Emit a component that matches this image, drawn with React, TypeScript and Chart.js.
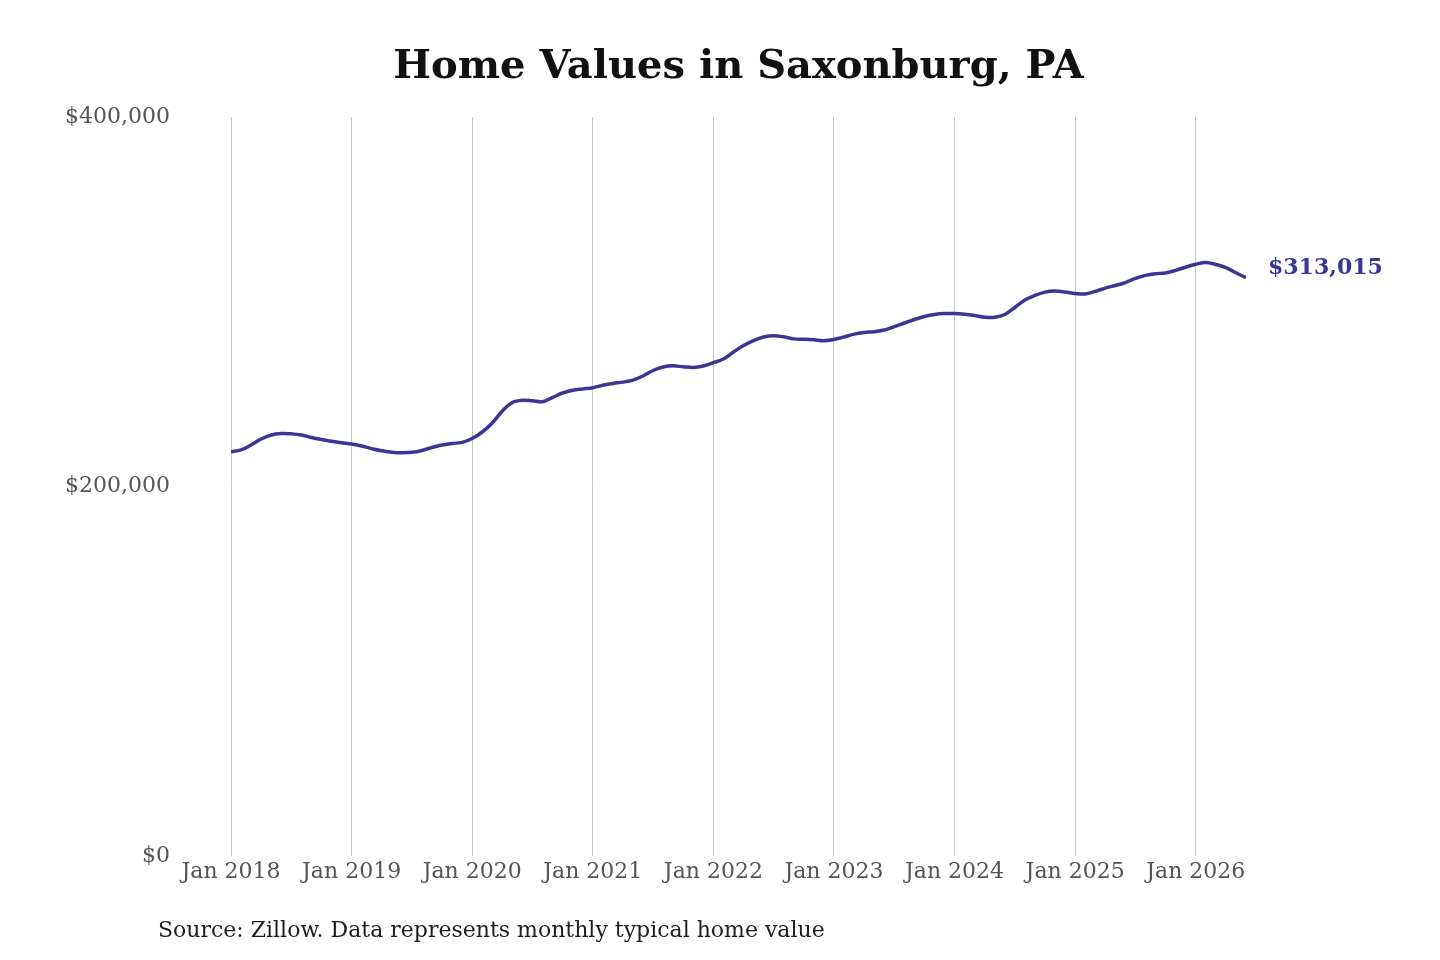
import React, { useEffect, useRef } from "react";
import { Chart, registerables } from "chart.js";

Chart.register(...registerables);

const TITLE = "Home Values in Saxonburg, PA";
const SOURCE = "Source: Zillow. Data represents monthly typical home value";

// Monthly typical home value, Jan 2018 .. Jun 2026
const values: number[] = [
  218800, 219800, 222500, 225700, 227900, 228700, 228500, 227900, 226500, 225400, 224500, 223700,
  223000, 221900, 220500, 219300, 218600, 218300, 218500, 219500, 221100, 222500, 223300, 223900,
  226000, 229500, 234400, 240900, 245500, 246700, 246400, 245900, 248200, 250600, 252100, 252800,
  253500, 254800, 255800, 256500, 257600, 259800, 262800, 264700, 265300, 264800, 264400, 265200,
  267000, 269000, 272800, 276300, 279000, 280900, 281600, 281000, 279900, 279700, 279400, 278900,
  279600, 280900, 282500, 283400, 283800, 284700, 286500, 288500, 290400, 292000, 293100, 293600,
  293600, 293200, 292500, 291600, 291600, 293100, 296900, 301000, 303400, 305200, 305800, 305300,
  304500, 304200, 305600, 307400, 308800, 310400, 312600, 314300, 315200, 315600, 317000, 318700,
  320300, 321200, 320200, 318500, 315700, 313015,
];

const yearTickLabels: string[] = [
  "Jan 2018", "Jan 2019", "Jan 2020", "Jan 2021", "Jan 2022",
  "Jan 2023", "Jan 2024", "Jan 2025", "Jan 2026",
];

const yTicks: number[] = [0, 200000, 400000];

const LINE_COLOR = "#3b3596";
const SERIF = "'DejaVu Serif', serif";

const fmt = (v: number) => "$" + Math.round(v).toLocaleString("en-US");

export default function App() {
  const ref = useRef<HTMLCanvasElement | null>(null);

  useEffect(() => {
    if (!ref.current) return;
    const points = values.map((v, i) => ({ x: i, y: v }));
    const tickValues = yearTickLabels.map((_, i) => i * 12);

    const overlay = {
      id: "overlay",
      afterDatasetsDraw(chart: any) {
        const ctx = chart.ctx;
        const area = chart.chartArea;
        ctx.save();
        // title
        ctx.fillStyle = "#111111";
        ctx.font = `bold 40px ${SERIF}`;
        ctx.textAlign = "center";
        ctx.textBaseline = "middle";
        ctx.fillText(TITLE, (area.left + area.right) / 2, 68);
        // source
        ctx.fillStyle = "#1e1e1e";
        ctx.font = `22px ${SERIF}`;
        ctx.textAlign = "left";
        ctx.fillText(SOURCE, 158, 931);
        // end label
        const meta = chart.getDatasetMeta(0);
        const last = meta.data[meta.data.length - 1];
        ctx.fillStyle = LINE_COLOR;
        ctx.font = `bold 22px ${SERIF}`;
        ctx.textAlign = "left";
        ctx.fillText(fmt(values[values.length - 1]), last.x + 22, last.y - 9);
        ctx.restore();
      },
    };

    const chart = new Chart(ref.current, {
      type: "line",
      data: {
        datasets: [
          {
            data: points,
            borderColor: LINE_COLOR,
            borderWidth: 3.5,
            pointRadius: 0,
            tension: 0.35,
            fill: false,
          },
        ],
      },
      options: {
        animation: false,
        responsive: false,
        maintainAspectRatio: false,
        layout: { padding: { left: 0, top: 117, right: 194, bottom: 0 } },
        plugins: {
          legend: { display: false },
          tooltip: { enabled: false },
          title: { display: false },
        },
        scales: {
          x: {
            type: "linear",
            min: 0,
            max: values.length - 1,
            border: { display: false },
            grid: { display: true, color: "#c8c8c8", lineWidth: 1, drawTicks: false },
            afterBuildTicks: (scale: any) => {
              scale.ticks = tickValues.map((v) => ({ value: v }));
            },
            afterFit: (scale: any) => {
              scale.height = 104;
            },
            ticks: {
              autoSkip: false,
              maxRotation: 0,
              padding: 3,
              color: "#555555",
              font: { family: SERIF, size: 22 },
              callback: (v: any) => yearTickLabels[Math.round(Number(v) / 12)] ?? "",
            },
          },
          y: {
            min: 0,
            max: 400000,
            border: { display: false },
            grid: { display: false, drawTicks: false },
            afterBuildTicks: (scale: any) => {
              scale.ticks = yTicks.map((v) => ({ value: v }));
            },
            afterFit: (scale: any) => {
              scale.width = 231;
            },
            ticks: {
              padding: 61,
              color: "#555555",
              font: { family: SERIF, size: 22 },
              callback: (v: any) => fmt(Number(v)),
            },
          },
        },
      },
      plugins: [overlay],
    });
    return () => chart.destroy();
  }, []);

  return (
    <div style={{ position: "fixed", left: 0, top: 0, width: 1440, height: 960, background: "#fff" }}>
      <canvas ref={ref} width={1440} height={960} style={{ width: 1440, height: 960, display: "block" }} />
    </div>
  );
}
